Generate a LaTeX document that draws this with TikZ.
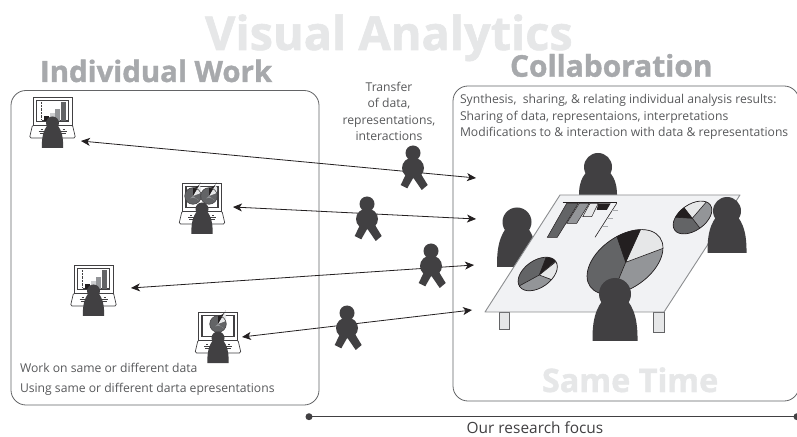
\documentclass[tikz,border=0pt]{standalone}
\usepackage{fontspec}
\usetikzlibrary{arrows.meta}
\setmainfont{Open Sans}[BoldFeatures={FakeBold=1.2}]
\definecolor{ink}{HTML}{414042}
\definecolor{tipk}{HTML}{231F20}
\definecolor{dk}{HTML}{636466}
\definecolor{md}{HTML}{939598}
\definecolor{lt}{HTML}{E6E7E8}
\definecolor{tbl}{HTML}{F1F2F4}
\definecolor{hd}{HTML}{A7A9AC}
\definecolor{tx}{HTML}{58595B}
\tikzset{
  boxline/.style={draw=#1,line width=0.8pt,rounded corners=15pt},
  flow/.style={draw=tipk,line width=0.8pt,{Stealth[length=9pt,width=8pt,inset=2.5pt]}-{Stealth[length=9pt,width=8pt,inset=2.5pt]}},
  txt/.style={inner sep=0pt,outer sep=0pt,anchor=base west,text=tx,font=\fontsize{12.2}{14}\selectfont},
  slice/.style={draw=tipk,line width=0.6pt},
}
% \person{x}{y}{r}{base}{halfwidth}
\newcommand{\person}[5]{%
  \begin{scope}[shift={(#1,#2)}]
    \fill[ink] (-#5,#4) .. controls ({-1.02*#5},{0.4*#4}) and ({-0.7*#5},{0.2*#4}) .. ({-0.3*#5},0)
      -- ({0.3*#5},0) .. controls ({0.7*#5},{0.2*#4}) and ({1.02*#5},{0.4*#4}) .. (#5,#4) -- cycle;
    \fill[ink] (0,0) circle (#3);
  \end{scope}}
% \walker{x}{y}
\newcommand{\walker}[2]{%
  \begin{scope}[shift={(#1,#2)}]
    \fill[ink] (0,0) circle (7.5);
    \fill[ink] (0,15) ellipse (11 and 10.5);
    \fill[ink] (-7,21) -- (0.3,24.7) -- (-5.7,35.3) -- (-12.3,32) -- cycle;
    \fill[ink] (0.3,24.7) -- (8,21) -- (14.7,32) -- (8.7,37) -- cycle;
  \end{scope}}
% \laptop{x}{top}{content}
\newcommand{\laptop}[3]{%
  \begin{scope}[shift={(#1,#2)}]
    \draw[ink,line width=0.7pt,fill=white,rounded corners=1.5pt] (-20,28) -- (20,28) -- (23,41) -- (-23,41) -- cycle;
    \draw[ink,line width=0.8pt,fill=white] (-19.5,0) rectangle (19.5,28);
    \draw[ink,line width=1.4pt] (-16,3.5) rectangle (16,24.5);
    #3
    \draw[ink,line width=0.6pt] (-14,34) -- (-5,34) (5,34) -- (14,34) (-13,36.5) -- (-7,36.5) (7,36.5) -- (13,36.5) (-12,32) -- (-10,32) (10,32) -- (12,32);
    \person{0}{26}{6.5}{25}{10.7}
  \end{scope}}
\newcommand{\barsc}{%
  \draw[ink,line width=0.4pt,densely dotted] (-11,5) -- (-11,23);
  \draw[ink,line width=0.5pt] (-11,23.5) -- (15,23.5);
  \fill[tipk] (-8.5,19) rectangle (-3.5,24);
  \fill[lt!70!md] (-3,16) rectangle (2,24);
  \fill[md] (2.5,12) rectangle (7.5,24);
  \fill[dk] (8.5,5) rectangle (13.5,24);}
% \minipie{x}{y}
\newcommand{\minipie}[2]{%
  \begin{scope}[shift={(#1,#2)}]
    \fill[dk] (0,0) circle (8.3);
    \fill[md] (0,0) -- (6.5,5) arc[start angle=-38,end angle=-110,radius=8.2] -- cycle;
    \fill[lt] (0,0) -- (7.8,-3) arc[start angle=21,end angle=-38,radius=8.3] -- cycle;
    \fill[tipk] (0,0) -- (0,-8.3) arc[start angle=90,end angle=21,radius=8.3] -- cycle;
    \draw[ink,line width=0.5pt] (0,0) circle (8.3);
  \end{scope}}
\begin{document}
\begin{tikzpicture}[x=1bp,y=-1bp]
\useasboundingbox (0,0) rectangle (797,437);
\fill[white] (0,0) rectangle (797,437);
% titles
\node[txt,text=lt,font=\fontsize{47}{50}\selectfont\bfseries] (vtitle) at (205,50) {Visual Analytics};
\node[txt,text=hd,font=\fontsize{29.5}{32}\selectfont\bfseries] (indiv) at (40,82) {Individual Work};
\node[txt,text=hd,font=\fontsize{30}{32}\selectfont\bfseries] (collab) at (510,76.7) {Collaboration};
% boxes
\draw[boxline=dk] (11,90.5) rectangle (319,405);
\draw[boxline=dk] (453,86) rectangle (799,401);
\node[txt,text=lt,font=\fontsize{32.5}{34}\selectfont\bfseries] (same) at (542,392) {Same Time};
% texts
\node[txt,anchor=base] (tr1) at (389,92) {Transfer};
\node[txt,anchor=base] (tr2) at (389,108) {of data,};
\node[txt,anchor=base] (tr3) at (389,125) {representations,};
\node[txt,anchor=base] (tr4) at (389,141) {interactions};
\node[txt] (c1) at (460,103.5) {Synthesis,\ \ sharing, \& relating individual analysis results:};
\node[txt] (c2) at (460,120.5) {Sharing of data, representaions, interpretations};
\node[txt] (c3) at (460,137) {Modifications to \& interaction with data \& representations};
\node[txt] (w1) at (20,373) {Work on same or different data};
\node[txt] (w2) at (20,392.5) {Using same or different darta epresentations};
\node[txt,anchor=base,text=ink,font=\fontsize{15.5}{16}\selectfont] (focus) at (535,433.5) {Our research focus};
% focus line
\coordinate (fa) at (309,416.7);
\coordinate (fb) at (797,416.7);
\fill[ink] (fa) circle (3.5);
\fill[ink] (fb) circle (3.5);
\draw[ink,line width=0.8pt] (fa) -- (fb);
% connectors
\coordinate (a1) at (81,141); \coordinate (b1) at (476,178);
\coordinate (a2) at (233,207); \coordinate (b2) at (476,219);
\coordinate (a3) at (131,288); \coordinate (b3) at (474,265);
\coordinate (a4) at (242,337); \coordinate (b4) at (472,310);
\draw[flow] (a1) -- (b1);
\draw[flow] (a2) -- (b2);
\draw[flow] (a3) -- (b3);
\draw[flow] (a4) -- (b4);
\walker{413}{153}
\walker{367}{204}
\walker{431}{251}
\walker{347}{313}
% laptops
\laptop{52.5}{97}{\barsc}
\laptop{93.5}{265}{\barsc}
\laptop{202}{183}{\minipie{-9}{13}\minipie{7}{13}}
\laptop{218}{312}{\minipie{0}{12}}
% people behind table
\person{598}{167}{14}{30}{19}
\person{517}{222}{14.5}{45}{20}
% table
\draw[dk,fill=lt,line width=0.8pt] (499,312) rectangle (509,329);
\draw[dk,fill=lt,line width=0.8pt] (653,312) rectangle (664,332);
\draw[hd!60!dk,fill=tbl,line width=0.9pt,line join=round] (560,195) -- (740,195) -- (664,312) -- (485,312) -- cycle;
% bar chart
\draw[tipk,line width=0.9pt] (562.7,202.7) -- (617.3,202.7);
\draw[tipk,line width=0.6pt] (616.7,203.3) -- (595,237.3);
\draw[hd,line width=0.5pt] (612,210) -- (618,210) (607,218) -- (613,218) (602,226) -- (608,226);
\draw[tipk,fill=dk,line width=0.5pt] (566.7,203.3) -- (578.3,203.3) -- (557.3,237.3) -- (547.3,237.3) -- cycle;
\draw[tipk,fill=md,line width=0.5pt] (579.3,203.3) -- (589.3,203.3) -- (576.7,223.3) -- (566.7,223.3) -- cycle;
\draw[tipk,fill=lt,line width=0.5pt] (590,203.3) -- (598.3,203.3) -- (591.7,216.7) -- (582.7,216.7) -- cycle;
\fill[tipk] (598.3,203.3) -- (610.7,203.3) -- (606.7,210) -- (596.7,210) -- cycle;
% big pie
\begin{scope}
  \path[clip,rotate around={35:(625,262)}] (625,262) ellipse (42.6 and 26);
  \fill[dk] (560,190) rectangle (700,320);
  \fill[md] (625.7,262.3) -- (680,242) -- (680,300) -- (610,300) -- cycle;
  \fill[lt] (625.7,262.3) -- (644,222) -- (680,222) -- (680,242) -- cycle;
  \fill[tipk] (625.7,262.3) -- (613,225) -- (644,222) -- cycle;
  \draw[slice] (625.7,262.3) -- (613,225) (625.7,262.3) -- (644,222) (625.7,262.3) -- (680,242) (625.7,262.3) -- (610,300);
\end{scope}
\draw[tipk,line width=0.7pt,rotate around={35:(625,262)}] (625,262) ellipse (42.6 and 26);
% upper right pie
\begin{scope}
  \path[clip,rotate around={35:(692.5,217.5)}] (692.5,217.5) ellipse (21.8 and 13);
  \fill[dk] (660,190) rectangle (720,240);
  \fill[md] (692.3,218.3) -- (712,195.3) -- (725,195) -- (725,245) -- (713,245) -- cycle;
  \fill[lt] (692.3,218.3) -- (680,202.5) -- (690,190) -- (712,190) -- (712,195.3) -- cycle;
  \fill[tipk] (692.3,218.3) -- (665,216.6) -- (665,200) -- (680,202.5) -- cycle;
  \draw[slice] (692.3,218.3) -- (665,216.6) (692.3,218.3) -- (680,202.5) (692.3,218.3) -- (712,195.3) (692.3,218.3) -- (713,245);
\end{scope}
\draw[tipk,line width=0.7pt,rotate around={35:(692.5,217.5)}] (692.5,217.5) ellipse (21.8 and 13);
% left pie
\begin{scope}
  \path[clip,rotate around={35:(537.7,274)}] (537.7,274) ellipse (22 and 13.5);
  \fill[dk] (510,250) rectangle (565,300);
  \fill[md] (539.3,275) -- (565,285) -- (565,300) -- (505,300) -- (505,294) -- cycle;
  \fill[lt] (539.3,275) -- (570,250) -- (570,285.5) -- cycle;
  \fill[tipk] (539.3,275) -- (549,250) -- (568,250) -- cycle;
  \draw[slice] (539.3,275) -- (549,250) (539.3,275) -- (568,252) (539.3,275) -- (560,283) (539.3,275) -- (510,291);
\end{scope}
\draw[tipk,line width=0.7pt,rotate around={35:(537.7,274)}] (537.7,274) ellipse (22 and 13.5);
% people in front
\person{727}{211}{14}{42}{19.5}
\person{615}{294}{16}{47}{22.5}
\end{tikzpicture}
\end{document}
